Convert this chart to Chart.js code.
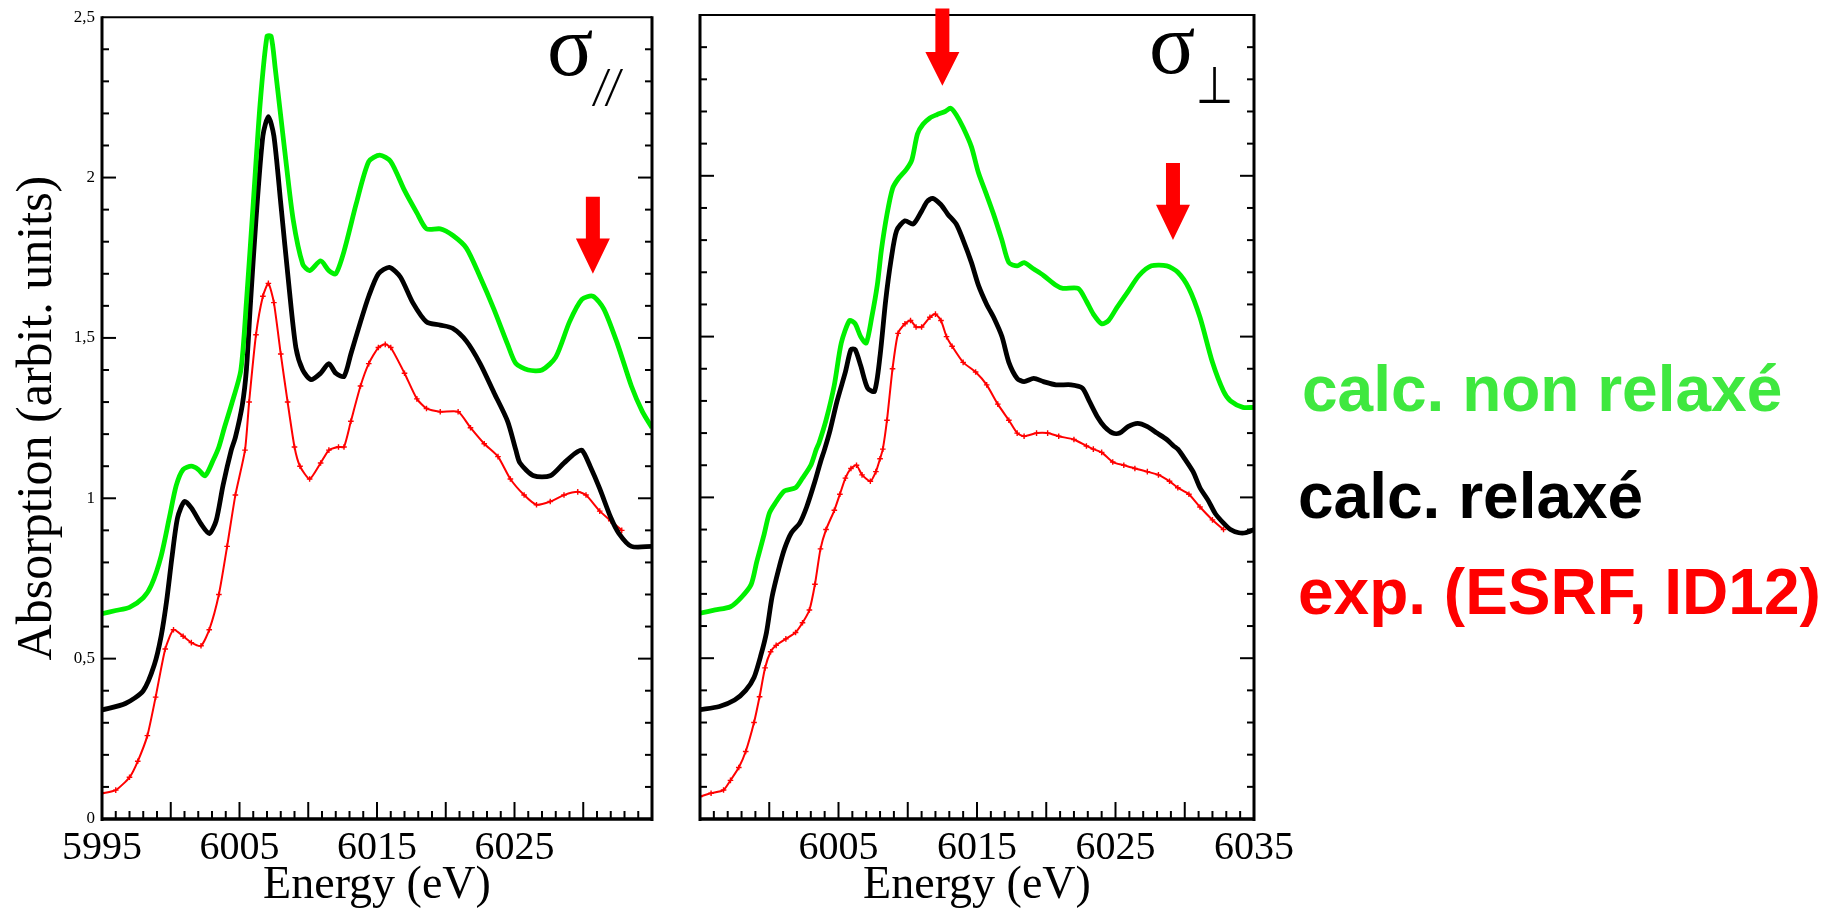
<!DOCTYPE html>
<html>
<head>
<meta charset="utf-8">
<script src="https://cdn.jsdelivr.net/npm/chart.js@4.4.1/dist/chart.umd.min.js"></script>
<style>
  body { margin: 0; background: #fff; width: 1847px; height: 909px; overflow: hidden; position: relative; }
  .box { position: absolute; top: 0; height: 909px; }
  #leftBox { left: 0; width: 680px; }
  #rightBox { left: 600px; width: 720px; }
  .leg { position: absolute; font-family: 'Liberation Sans', Arial, sans-serif; font-weight: bold;
         font-size: 64px; line-height: 64px; white-space: nowrap; }
</style>
</head>
<body>
<div class="box" id="leftBox"><canvas id="left"></canvas></div>
<div class="box" id="rightBox"><canvas id="right"></canvas></div>
<div class="leg" style="left:1302px;top:357px;color:#3fe83f">calc. non relaxé</div>
<div class="leg" style="left:1298px;top:464px;color:#000">calc. relaxé</div>
<div class="leg" style="left:1298px;top:560px;color:#f00">exp. (ESRF, ID12)</div>
<script>
// axis ranges and tick labels
const energyRange = [5995, 6035];
const absRange = [0, 2.5];
const leftTickLabels = [5995, 6005, 6015, 6025];
const rightTickLabels = [6005, 6015, 6025, 6035];
const yTickLabels = [0, 0.5, 1, 1.5, 2, 2.5];

// sigma parallel panel
const parGreenE = [5995, 5996, 5997, 5998, 5998.6, 5999.3, 5999.9, 6000.4, 6000.9, 6001.5, 6002, 6002.5, 6003.1, 6003.5, 6003.9, 6004.4, 6005.1, 6005.5, 6006, 6006.5, 6007, 6007.3, 6007.6, 6008.3, 6008.9, 6009.6, 6010.1, 6010.9, 6011.5, 6012, 6012.6, 6013.5, 6014.4, 6015.2, 6016, 6017, 6017.9, 6018.6, 6019.6, 6020.5, 6021.5, 6022.5, 6023.5, 6024.5, 6025.1, 6026, 6027, 6028, 6029, 6029.9, 6030.7, 6031.5, 6032.5, 6033.5, 6034.3, 6035];
const parGreenA = [0.64, 0.65, 0.66, 0.69, 0.73, 0.82, 0.94, 1.04, 1.09, 1.10, 1.09, 1.07, 1.12, 1.16, 1.22, 1.29, 1.40, 1.61, 1.92, 2.23, 2.44, 2.44, 2.34, 2.08, 1.87, 1.73, 1.71, 1.74, 1.71, 1.70, 1.77, 1.92, 2.05, 2.07, 2.05, 1.96, 1.89, 1.84, 1.84, 1.82, 1.78, 1.69, 1.59, 1.48, 1.42, 1.40, 1.40, 1.44, 1.55, 1.62, 1.63, 1.59, 1.48, 1.35, 1.27, 1.22];

const parBlackE = [5995, 5996.7, 5998, 5998.8, 5999.3, 5999.7, 6000.1, 6000.5, 6001, 6001.5, 6002.2, 6002.8, 6003.3, 6003.8, 6004.4, 6004.7, 6005.2, 6005.5, 6005.8, 6006.2, 6006.7, 6007.1, 6007.5, 6008, 6008.6, 6009.1, 6009.6, 6010.2, 6010.9, 6011.5, 6012, 6012.6, 6013.1, 6013.8, 6014.4, 6015.1, 6015.9, 6016.7, 6017.6, 6018.6, 6019.6, 6020.5, 6021.5, 6022.5, 6023.5, 6024.5, 6025.1, 6025.4, 6026.4, 6027.6, 6028.6, 6029.4, 6029.9, 6030.5, 6031.2, 6032, 6032.6, 6033.5, 6035];
const parBlackA = [0.34, 0.36, 0.40, 0.48, 0.57, 0.68, 0.82, 0.94, 0.99, 0.97, 0.92, 0.89, 0.93, 1.04, 1.15, 1.19, 1.29, 1.40, 1.61, 1.87, 2.13, 2.19, 2.13, 1.92, 1.66, 1.47, 1.40, 1.37, 1.39, 1.42, 1.39, 1.38, 1.45, 1.55, 1.63, 1.70, 1.72, 1.69, 1.61, 1.55, 1.54, 1.53, 1.49, 1.42, 1.33, 1.24, 1.15, 1.11, 1.07, 1.07, 1.11, 1.14, 1.15, 1.10, 1.03, 0.94, 0.89, 0.85, 0.85];

const parRedE = [5995, 5996, 5997, 5997.6, 5998.3, 5998.9, 5999.6, 6000.2, 6000.9, 6001.5, 6002.2, 6002.8, 6003.5, 6004.1, 6004.7, 6005.4, 6005.7, 6006.2, 6006.7, 6007.1, 6007.5, 6008, 6008.5, 6009, 6009.4, 6010.1, 6010.9, 6011.5, 6012.2, 6012.6, 6013.1, 6013.8, 6014.4, 6015.1, 6015.6, 6016, 6017, 6017.9, 6018.6, 6019.6, 6020.9, 6021.8, 6022.8, 6023.8, 6024.7, 6025.7, 6026.6, 6027.6, 6028.6, 6029.6, 6030.2, 6031.2, 6032, 6032.8];
const parRedA = [0.08, 0.09, 0.13, 0.18, 0.26, 0.38, 0.53, 0.59, 0.57, 0.55, 0.54, 0.59, 0.70, 0.85, 1.01, 1.15, 1.30, 1.51, 1.63, 1.67, 1.61, 1.45, 1.30, 1.16, 1.10, 1.06, 1.11, 1.15, 1.16, 1.16, 1.24, 1.35, 1.42, 1.47, 1.48, 1.47, 1.39, 1.31, 1.28, 1.27, 1.27, 1.22, 1.17, 1.13, 1.06, 1.01, 0.98, 0.99, 1.01, 1.02, 1.01, 0.96, 0.93, 0.90];

// sigma perpendicular panel
const perpGreenE = [5995, 5996.1, 5997.2, 5998, 5998.7, 5999.1, 5999.6, 6000, 6000.4, 6001.1, 6001.9, 6002.4, 6003, 6003.4, 6003.6, 6004.1, 6004.7, 6005.2, 6005.8, 6006.2, 6006.6, 6007, 6007.4, 6007.8, 6008.1, 6008.5, 6008.9, 6009.3, 6009.9, 6010.3, 6010.7, 6011.1, 6011.6, 6012.1, 6012.7, 6013.1, 6013.5, 6014, 6014.6, 6015.1, 6015.7, 6016.2, 6016.8, 6017.3, 6017.9, 6018.4, 6019.1, 6019.8, 6020.7, 6021.2, 6022.3, 6022.9, 6023.4, 6024, 6024.5, 6025.1, 6025.9, 6026.7, 6027.6, 6028.7, 6029.5, 6030.3, 6031.1, 6032, 6032.8, 6033.3, 6034.2, 6035];
const perpGreenA = [0.64, 0.65, 0.66, 0.69, 0.73, 0.80, 0.88, 0.95, 0.98, 1.02, 1.03, 1.06, 1.10, 1.15, 1.17, 1.24, 1.35, 1.48, 1.55, 1.54, 1.50, 1.48, 1.56, 1.66, 1.77, 1.88, 1.96, 1.99, 2.02, 2.05, 2.13, 2.16, 2.18, 2.19, 2.20, 2.21, 2.19, 2.15, 2.09, 2.01, 1.94, 1.88, 1.80, 1.73, 1.72, 1.73, 1.71, 1.69, 1.66, 1.65, 1.65, 1.61, 1.57, 1.54, 1.55, 1.59, 1.64, 1.69, 1.72, 1.72, 1.70, 1.65, 1.56, 1.42, 1.33, 1.30, 1.28, 1.28];

const perpBlackE = [5995, 5996.4, 5997.5, 5998.3, 5998.9, 5999.4, 5999.8, 6000.2, 6000.7, 6001.1, 6001.6, 6002.2, 6002.7, 6003.3, 6003.7, 6004, 6004.4, 6004.9, 6005.5, 6005.9, 6006.2, 6006.6, 6007.1, 6007.6, 6008, 6008.4, 6008.8, 6009.2, 6009.8, 6010.4, 6011, 6011.4, 6011.8, 6012.4, 6012.9, 6013.5, 6014, 6014.6, 6015.1, 6015.7, 6016.2, 6016.8, 6017.3, 6017.9, 6018.4, 6019.1, 6019.8, 6020.7, 6021.8, 6022.6, 6023.1, 6023.7, 6024.2, 6024.8, 6025.3, 6025.9, 6026.6, 6027.3, 6028, 6028.7, 6029.2, 6029.5, 6030, 6030.6, 6031.1, 6031.7, 6032.2, 6032.8, 6033.3, 6033.9, 6034.4, 6035];
const perpBlackA = [0.34, 0.35, 0.37, 0.40, 0.44, 0.51, 0.58, 0.69, 0.78, 0.84, 0.89, 0.92, 0.97, 1.05, 1.11, 1.15, 1.21, 1.30, 1.39, 1.46, 1.46, 1.41, 1.34, 1.33, 1.44, 1.61, 1.74, 1.83, 1.86, 1.85, 1.89, 1.92, 1.93, 1.91, 1.88, 1.85, 1.80, 1.73, 1.66, 1.60, 1.56, 1.50, 1.42, 1.37, 1.36, 1.37, 1.36, 1.35, 1.35, 1.34, 1.30, 1.25, 1.22, 1.20, 1.20, 1.22, 1.23, 1.22, 1.20, 1.18, 1.16, 1.15, 1.12, 1.08, 1.03, 0.99, 0.95, 0.92, 0.90, 0.89, 0.89, 0.90];

const perpRedE = [5995, 5995.8, 5996.7, 5997.2, 5997.8, 5998.3, 5998.9, 5999.3, 5999.7, 6000.1, 6000.5, 6001.2, 6001.9, 6002.4, 6002.9, 6003.3, 6003.7, 6004.1, 6004.7, 6005.1, 6005.5, 6005.9, 6006.3, 6006.7, 6007.3, 6007.7, 6008, 6008.2, 6008.5, 6008.9, 6009.3, 6009.8, 6010.2, 6010.6, 6011, 6011.6, 6012, 6012.4, 6012.8, 6013.2, 6014, 6014.9, 6015.7, 6016.5, 6017.3, 6017.9, 6018.4, 6019.3, 6020.1, 6020.9, 6022, 6022.9, 6023.4, 6024, 6024.8, 6025.6, 6026.4, 6027.3, 6028.1, 6028.9, 6029.5, 6030.3, 6031.1, 6032, 6032.8];
const perpRedA = [0.07, 0.08, 0.09, 0.12, 0.16, 0.21, 0.30, 0.38, 0.47, 0.52, 0.54, 0.56, 0.58, 0.61, 0.65, 0.73, 0.84, 0.90, 0.96, 1.01, 1.06, 1.09, 1.10, 1.07, 1.05, 1.08, 1.12, 1.15, 1.24, 1.40, 1.51, 1.54, 1.55, 1.53, 1.53, 1.56, 1.57, 1.55, 1.50, 1.47, 1.42, 1.39, 1.35, 1.29, 1.24, 1.20, 1.19, 1.20, 1.20, 1.19, 1.18, 1.16, 1.15, 1.14, 1.11, 1.10, 1.09, 1.08, 1.07, 1.05, 1.03, 1.01, 0.97, 0.93, 0.90];

// red arrows: energy, top of shaft, start of head, tip
const leftArrows = [[6030.7, 1.94, 1.81, 1.70]];
const rightArrows = [[6012.5, 2.52, 2.385, 2.28], [6029.15, 2.04, 1.91, 1.80]];

function pts(e, a) {
  return e.map((v, i) => ({ x: v, y: a[i] }));
}

function series(e, a, kind) {
  if (kind === 'red') {
    return { data: pts(e, a), borderColor: '#ff0000', borderWidth: 2, pointStyle: 'cross',
      pointRadius: 2.8, pointBorderColor: '#ff0000', pointBorderWidth: 1.4, tension: 0.2 };
  }
  const col = kind === 'green' ? '#00f000' : '#000000';
  return { data: pts(e, a), borderColor: col, borderWidth: 4.8, pointRadius: 0, tension: 0.25 };
}

// inward ticks on left, right and bottom edges, plus the frame
const frameTicks = {
  id: 'frameTicks',
  afterDatasetsDraw(chart) {
    const { ctx, chartArea: a, scales: { x, y } } = chart;
    const seg = (x1, y1, x2, y2) => { ctx.beginPath(); ctx.moveTo(x1, y1); ctx.lineTo(x2, y2); ctx.stroke(); };
    ctx.save();
    ctx.strokeStyle = '#000';
    ctx.lineWidth = 2;
    for (let i = 1; i < 25; i++) {
      const p = y.getPixelForValue(i / 10);
      const len = i % 5 === 0 ? 14 : 7;
      seg(a.left, p, a.left + len, p);
      seg(a.right, p, a.right - len, p);
    }
    for (let e = energyRange[0] + 1; e < energyRange[1]; e++) {
      const p = x.getPixelForValue(e);
      const len = e % 5 === 0 ? 17 : 8;
      seg(p, a.bottom, p, a.bottom - len);
    }
    ctx.lineWidth = 2;
    seg(a.left, a.top, a.right, a.top);
    ctx.lineWidth = 3;
    seg(a.left, a.top - 1, a.left, a.bottom + 2);
    seg(a.right, a.top - 1, a.right, a.bottom + 2);
    ctx.lineWidth = 3.5;
    seg(a.left - 1, a.bottom, a.right + 1, a.bottom);
    ctx.restore();
  }
};

// block arrows and the sigma label of each panel
const panelDecor = {
  id: 'panelDecor',
  afterDraw(chart, args, opts) {
    const { ctx, chartArea: a, scales: { x, y } } = chart;
    ctx.save();
    ctx.fillStyle = '#ff0000';
    opts.arrows.forEach(([e, top, neck, tip]) => {
      const cx = x.getPixelForValue(e);
      const yt = y.getPixelForValue(top), yn = y.getPixelForValue(neck), yp = y.getPixelForValue(tip);
      ctx.beginPath();
      ctx.moveTo(cx - 7, yt); ctx.lineTo(cx + 7, yt); ctx.lineTo(cx + 7, yn);
      ctx.lineTo(cx + 17, yn); ctx.lineTo(cx, yp); ctx.lineTo(cx - 17, yn);
      ctx.lineTo(cx - 7, yn); ctx.closePath(); ctx.fill();
    });
    ctx.fillStyle = '#000';
    ctx.textBaseline = 'alphabetic';
    ctx.textAlign = 'left';
    ctx.font = '86px "Liberation Serif"';
    ctx.fillText('σ', a.right - 105, a.top + 58);
    // subscript, a little taller than wide as in the original
    ctx.translate(a.right - 58, a.top + 88);
    ctx.scale(1, 1.2);
    ctx.font = opts.subFont;
    ctx.fillText(opts.sub, 0, 0);
    ctx.restore();
  }
};

Chart.defaults.font.family = '"Liberation Serif", "Times New Roman", serif';
Chart.defaults.color = '#000';

function makeChart(id, sets, xLabels, arrows, sub, subFont, isLeft) {
  return new Chart(document.getElementById(id), {
    type: 'line',
    data: { datasets: sets },
    plugins: [frameTicks, panelDecor],
    options: {
      responsive: true,
      maintainAspectRatio: false,
      animation: false,
      layout: { padding: { top: 15, right: isLeft ? 28 : 66, left: 0, bottom: 0 } },
      plugins: {
        legend: { display: false },
        tooltip: { enabled: false },
        panelDecor: { arrows: arrows, sub: sub, subFont: subFont }
      },
      scales: {
        x: {
          type: 'linear', min: energyRange[0], max: energyRange[1],
          grid: { display: false, drawTicks: false },
          border: { display: false },
          ticks: {
            stepSize: 5, autoSkip: false, maxRotation: 0, padding: 5,
            font: { size: 40 },
            callback: v => xLabels.includes(v) ? String(v) : ''
          },
          title: { display: true, text: 'Energy (eV)', font: { size: 46, lineHeight: 1.0 }, padding: { top: 0, bottom: 0 } },
          afterFit: s => { s.height = 90; }
        },
        y: {
          min: absRange[0], max: absRange[1],
          grid: { display: false, drawTicks: false },
          border: { display: false },
          ticks: {
            display: isLeft, stepSize: 0.5, padding: 7,
            font: { size: 17 },
            callback: v => yTickLabels.includes(v) ? String(v).replace('.', ',') : ''
          },
          title: { display: isLeft, text: 'Absorption (arbit. units)', font: { size: 50 }, padding: { top: 8, bottom: 0 } },
          afterFit: s => { s.width = isLeft ? 102 : 100; }
        }
      }
    }
  });
}

makeChart('left', [
  series(parGreenE, parGreenA, 'green'),
  series(parBlackE, parBlackA, 'black'),
  series(parRedE, parRedA, 'red')
], leftTickLabels, leftArrows, '//', 'italic 46px "Liberation Serif"', true);

makeChart('right', [
  series(perpGreenE, perpGreenA, 'green'),
  series(perpBlackE, perpBlackA, 'black'),
  series(perpRedE, perpRedA, 'red')
], rightTickLabels, rightArrows, '⊥', '43px "DejaVu Sans"', false);
</script>
</body>
</html>
